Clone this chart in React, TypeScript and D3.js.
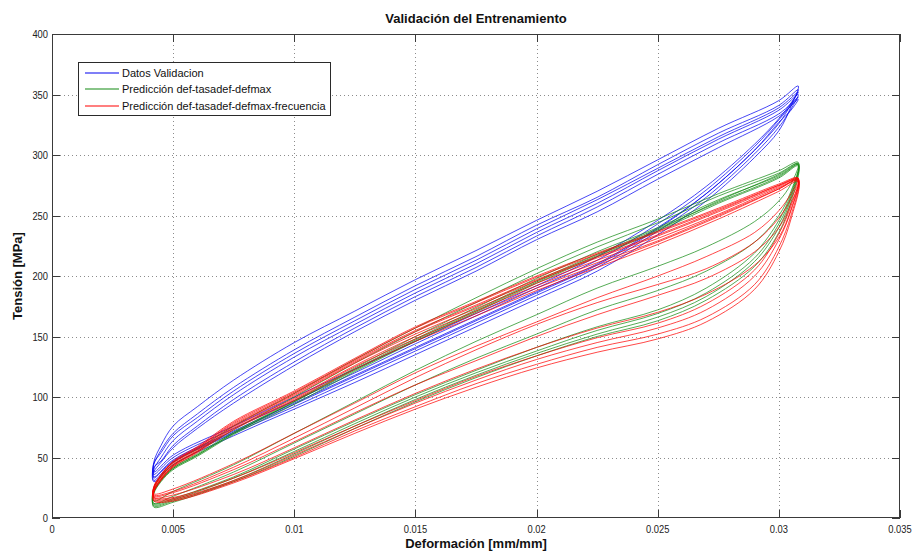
import React, { useEffect, useRef } from 'react';
import * as d3 from 'd3';

const W = 918, H = 552;
const margin = { top: 34, right: 18, bottom: 34, left: 52 };

const xTicks = [0, 0.005, 0.01, 0.015, 0.02, 0.025, 0.03, 0.035];
const xTickLabels = ['0', '0.005', '0.01', '0.015', '0.02', '0.025', '0.03', '0.035'];
const yTicks = [0, 50, 100, 150, 200, 250, 300, 350, 400];

const strainLoad = [0.0042, 0.005, 0.0075, 0.01, 0.0125, 0.015, 0.0175, 0.02, 0.0225, 0.025, 0.027, 0.029, 0.03, 0.0305, 0.0308];
const strainUnload = [0.0308, 0.03, 0.0275, 0.025, 0.0225, 0.02, 0.0175, 0.015, 0.0125, 0.01, 0.0075, 0.006, 0.005, 0.0045, 0.0042];

// Datos Validacion
const blueLoad = [
	[30, 44, 68, 90, 112, 135, 158, 181, 204, 234, 262, 298, 320, 340, 357],
	[34, 48, 72, 95, 118, 141, 164, 187, 210, 240, 268, 304, 326, 342, 354],
	[31, 46, 70, 92, 115, 138, 161, 184, 207, 237, 265, 301, 323, 338, 350],
	[36, 50, 74, 97, 120, 144, 167, 190, 213, 243, 271, 307, 329, 341, 348],
	[33, 47, 71, 94, 117, 140, 163, 186, 209, 239, 268, 304, 327, 337, 346],
	[38, 52, 76, 100, 123, 146, 169, 192, 216, 246, 274, 309, 330, 343, 352],
];
const blueUnload = [
	[357, 345, 322, 296, 270, 246, 221, 197, 171, 145, 114, 92, 76, 60, 46],
	[354, 341, 318, 292, 265, 242, 216, 192, 166, 139, 108, 86, 70, 56, 44],
	[350, 337, 313, 287, 260, 236, 210, 186, 160, 133, 102, 80, 64, 50, 40],
	[348, 334, 310, 284, 257, 233, 207, 183, 157, 129, 98, 76, 60, 47, 42],
	[346, 332, 306, 280, 253, 230, 204, 180, 154, 126, 95, 74, 58, 46, 38],
	[352, 339, 315, 289, 263, 239, 213, 189, 163, 136, 105, 83, 68, 54, 45],
];

// Prediccion def-tasadef-defmax
const greenLoad = [
	[10, 14, 31, 53, 76, 98, 118, 136, 152, 166, 183, 212, 240, 264, 292],
	[9, 13, 30, 51, 74, 96, 116, 134, 150, 163, 180, 208, 236, 261, 291],
	[11, 15, 33, 55, 78, 100, 120, 138, 155, 169, 186, 215, 243, 266, 293],
	[12, 16, 34, 57, 80, 102, 122, 141, 158, 172, 190, 219, 246, 268, 294],
	[14, 22, 44, 70, 96, 122, 146, 168, 190, 208, 224, 245, 262, 276, 293],
	[12, 18, 38, 62, 86, 110, 132, 152, 172, 188, 204, 228, 250, 270, 292],
];
const greenUnload = [
	[292, 283, 263, 240, 220, 198, 174, 150, 124, 97, 71, 53, 42, 32, 22],
	[291, 281, 260, 237, 216, 194, 170, 146, 121, 94, 69, 51, 40, 30, 20],
	[293, 285, 266, 244, 224, 202, 178, 154, 128, 100, 73, 55, 44, 34, 24],
	[294, 287, 268, 247, 228, 206, 182, 157, 131, 103, 76, 57, 46, 35, 25],
	[293, 284, 262, 238, 217, 195, 171, 147, 122, 96, 70, 52, 41, 31, 21],
	[292, 282, 261, 239, 218, 196, 172, 148, 123, 96, 70, 52, 41, 31, 21],
];

// Prediccion def-tasadef-defmax-frecuencia
const redLoad = [
	[16, 16, 31, 52, 74, 95, 114, 131, 145, 157, 172, 200, 230, 254, 280],
	[15, 15, 30, 50, 72, 92, 111, 127, 141, 152, 166, 193, 224, 250, 279],
	[17, 17, 33, 54, 76, 97, 117, 134, 149, 161, 177, 205, 235, 258, 281],
	[14, 14, 29, 49, 70, 90, 108, 124, 137, 148, 162, 189, 220, 247, 278],
	[20, 24, 45, 70, 95, 120, 142, 162, 182, 200, 216, 236, 254, 268, 281],
	[18, 21, 40, 63, 87, 110, 130, 150, 168, 184, 198, 220, 240, 260, 279],
	[17, 19, 36, 58, 81, 103, 123, 141, 157, 170, 185, 209, 232, 255, 280],
	[19, 22, 42, 66, 91, 116, 139, 160, 178, 193, 206, 228, 248, 264, 280],
];
const redUnload = [
	[280, 274, 253, 233, 215, 196, 175, 154, 129, 102, 77, 57, 45, 34, 24],
	[279, 272, 250, 229, 211, 192, 171, 150, 126, 99, 75, 55, 43, 32, 22],
	[281, 276, 256, 237, 219, 200, 179, 158, 132, 105, 80, 59, 47, 36, 26],
	[278, 270, 247, 226, 207, 188, 167, 146, 123, 97, 73, 54, 42, 31, 21],
	[281, 275, 254, 234, 216, 197, 176, 155, 130, 103, 78, 58, 46, 35, 25],
	[279, 273, 251, 231, 213, 194, 173, 152, 128, 101, 76, 56, 44, 33, 23],
	[280, 272, 249, 228, 209, 190, 169, 148, 125, 98, 74, 55, 43, 32, 22],
	[280, 275, 255, 236, 218, 199, 178, 157, 131, 104, 79, 58, 46, 35, 25],
];

const seriesNames = ['Datos Validacion', 'Predicción def-tasadef-defmax', 'Predicción def-tasadef-defmax-frecuencia'];
const seriesColors = ['#0000f0', '#128a12', '#ff0000'];

const tickFont = "'Liberation Sans', Arial, sans-serif";
const labelFont = "'Liberation Sans', Arial, sans-serif";

export default function App() {
	const ref = useRef<SVGSVGElement>(null);

	useEffect(() => {
		const svg = d3.select(ref.current);
		svg.selectAll('*').remove();

		const x0 = margin.left, x1 = W - margin.right;
		const y0 = H - margin.bottom, y1 = margin.top;

		const x = d3.scaleLinear().domain([0, 0.035]).range([x0, x1]);
		const y = d3.scaleLinear().domain([0, 400]).range([y0, y1]);

		svg.append('rect').attr('x', x0).attr('y', y1).attr('width', x1 - x0).attr('height', y0 - y1).attr('fill', '#fff');

		// dotted grid
		const grid = svg.append('g').attr('stroke', '#8c8c8c').attr('stroke-width', 1).attr('stroke-dasharray', '1,3');
		grid.selectAll('.vg').data(xTicks.slice(1, -1)).enter().append('line')
			.attr('x1', (d) => Math.round(x(d)) + 0.5).attr('x2', (d) => Math.round(x(d)) + 0.5)
			.attr('y1', y0).attr('y2', y1);
		grid.selectAll('.hg').data(yTicks.slice(1, -1)).enter().append('line')
			.attr('y1', (d) => Math.round(y(d)) + 0.5).attr('y2', (d) => Math.round(y(d)) + 0.5)
			.attr('x1', x0).attr('x2', x1);

		// hysteresis loops
		const line = d3.line<[number, number]>()
			.x((d) => x(d[0]))
			.y((d) => y(d[1]))
			.curve(d3.curveCatmullRomClosed.alpha(0.5));

		const groups = [
			{ load: blueLoad, unload: blueUnload },
			{ load: greenLoad, unload: greenUnload },
			{ load: redLoad, unload: redUnload },
		];
		groups.forEach((s, si) => {
			const g = svg.append('g');
			s.load.forEach((ld, ci) => {
				const pts: [number, number][] = strainLoad.map((e, i) => [e, ld[i]] as [number, number]);
				strainUnload.slice(1).forEach((e, i) => pts.push([e, s.unload[ci][i + 1]]));
				g.append('path')
					.attr('d', line(pts))
					.attr('fill', 'none')
					.attr('stroke', seriesColors[si])
					.attr('stroke-width', 0.9)
					.attr('stroke-opacity', 0.8);
			});
		});

		// frame
		svg.append('rect').attr('x', x0 + 0.5).attr('y', y1 + 0.5).attr('width', x1 - x0 - 1).attr('height', y0 - y1 - 1)
			.attr('fill', 'none').attr('stroke', '#3a3a3a').attr('stroke-width', 1);

		// ticks pointing inwards, on all four sides
		const tk = svg.append('g').attr('stroke', '#3a3a3a').attr('stroke-width', 1);
		xTicks.forEach((d) => {
			const px = Math.round(x(d)) + 0.5;
			tk.append('line').attr('x1', px).attr('x2', px).attr('y1', y0).attr('y2', y0 - 8);
			tk.append('line').attr('x1', px).attr('x2', px).attr('y1', y1).attr('y2', y1 + 8);
		});
		yTicks.forEach((d) => {
			const py = Math.round(y(d)) + 0.5;
			tk.append('line').attr('y1', py).attr('y2', py).attr('x1', x0).attr('x2', x0 + 8);
			tk.append('line').attr('y1', py).attr('y2', py).attr('x1', x1).attr('x2', x1 - 8);
		});

		// tick labels are drawn a bit condensed, like the original
		svg.append('g').selectAll('text').data(xTicks).enter().append('text')
			.attr('transform', (d) => `translate(${x(d)},${y0 + 15}) scale(0.85,1)`)
			.attr('text-anchor', 'middle')
			.style('font', `11px ${tickFont}`).attr('fill', '#222')
			.text((d, i) => xTickLabels[i]);

		svg.append('g').selectAll('text').data(yTicks).enter().append('text')
			.attr('transform', (d) => `translate(${x0 - 4},${y(d) + 4}) scale(0.85,1)`)
			.attr('text-anchor', 'end')
			.style('font', `11px ${tickFont}`).attr('fill', '#222')
			.text((d) => d);

		svg.append('text').attr('x', (x0 + x1) / 2).attr('y', 23).attr('text-anchor', 'middle')
			.style('font', `bold 13px ${labelFont}`).attr('fill', '#111')
			.text('Validación del Entrenamiento');

		svg.append('text').attr('x', (x0 + x1) / 2).attr('y', 548).attr('text-anchor', 'middle')
			.style('font', `bold 13px ${labelFont}`).attr('fill', '#111')
			.text('Deformación [mm/mm]');

		svg.append('text').attr('transform', `translate(22,${(y0 + y1) / 2}) rotate(-90)`).attr('text-anchor', 'middle')
			.style('font', `bold 13px ${labelFont}`).attr('fill', '#111')
			.text('Tensión [MPa]');

		// legend
		const lg = svg.append('g').attr('transform', 'translate(78,62)');
		lg.append('rect').attr('x', 0.5).attr('y', 0.5).attr('width', 252).attr('height', 53)
			.attr('fill', '#fff').attr('stroke', '#2a2a2a');
		const legendY = [11, 27, 44];
		seriesNames.forEach((name, i) => {
			const ly = legendY[i];
			lg.append('line').attr('x1', 7).attr('x2', 41).attr('y1', ly).attr('y2', ly)
				.attr('stroke', seriesColors[i]).attr('stroke-width', 1.2);
			lg.append('text').attr('x', 44).attr('y', ly + 4)
				.style('font', `11px ${labelFont}`).attr('fill', '#111')
				.text(name);
		});
	}, []);

	return (
		<div style={{ position: 'absolute', left: 0, top: 0, width: W, height: H, background: '#fff' }}>
			<svg ref={ref} width={W} height={H}></svg>
		</div>
	);
}
